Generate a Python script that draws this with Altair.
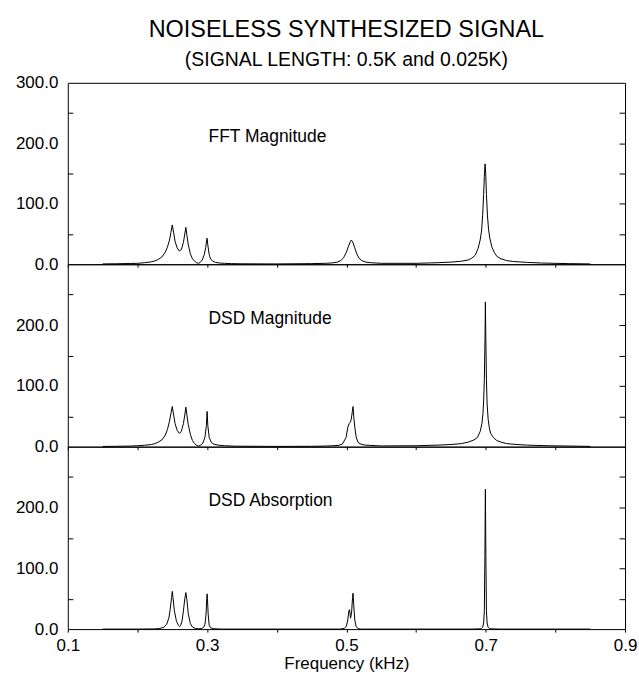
import altair as alt
import pandas as pd

FONT = "Liberation Sans"

# ---------------- data ----------------
fft_freq = [
    0.15, 0.17, 0.19, 0.20, 0.21, 0.22, 0.225, 0.23, 0.235, 0.24,
    0.243, 0.246, 0.248, 0.25, 0.252, 0.254, 0.257, 0.26, 0.263, 0.266,
    0.268, 0.2695, 0.271, 0.273, 0.276, 0.279, 0.282, 0.285, 0.2875, 0.29,
    0.293, 0.296, 0.298, 0.2995, 0.30, 0.301, 0.303, 0.305, 0.308, 0.312,
    0.318, 0.325, 0.335, 0.35, 0.40, 0.45, 0.47, 0.48, 0.487, 0.492,
    0.496, 0.50, 0.503, 0.5055, 0.507, 0.509, 0.512, 0.515, 0.518, 0.522,
    0.528, 0.535, 0.55, 0.60, 0.63, 0.65, 0.665, 0.675, 0.68, 0.685,
    0.689, 0.692, 0.694, 0.6955, 0.697, 0.698, 0.699, 0.700, 0.701, 0.7025,
    0.704, 0.706, 0.709, 0.712, 0.716, 0.722, 0.73, 0.74, 0.76, 0.78,
    0.82, 0.85,
]
fft_mag = [
    0.5, 0.8, 1.2, 1.5, 2.5, 4, 5.5, 8, 12, 20,
    28, 40, 52, 65, 52, 38, 27, 22, 24, 36,
    50, 61, 48, 32, 17, 9, 5, 2.5, 1.5, 3,
    7, 16, 28, 40, 43, 32, 16, 9, 5, 3,
    2, 1.5, 1, 0.7, 0.5, 1, 1.5, 2.2, 3.5, 6,
    11, 20, 30, 37, 40, 37, 27, 17, 10, 6,
    3.5, 2.5, 1.5, 1.5, 2.5, 3.5, 5, 7, 10, 15,
    26, 40, 55, 80, 115, 145, 166, 150, 115, 80,
    58, 42, 28, 20, 13, 9, 6, 4.5, 3, 2,
    1, 0.5,
]

dsd_mag_freq = [
    0.15, 0.17, 0.19, 0.20, 0.21, 0.22, 0.225, 0.23, 0.235, 0.24,
    0.243, 0.246, 0.248, 0.25, 0.252, 0.254, 0.257, 0.26, 0.263, 0.266,
    0.268, 0.2695, 0.271, 0.273, 0.276, 0.279, 0.282, 0.285, 0.288, 0.291,
    0.294, 0.297, 0.299, 0.30, 0.301, 0.303, 0.306, 0.31, 0.316, 0.325,
    0.34, 0.40, 0.45, 0.47, 0.48, 0.488, 0.494, 0.4995, 0.502, 0.504,
    0.5055, 0.507, 0.5085, 0.5095, 0.5105, 0.512, 0.514, 0.5167, 0.521, 0.527,
    0.535, 0.55, 0.60, 0.63, 0.65, 0.665, 0.675, 0.683, 0.688, 0.692,
    0.6945, 0.696, 0.697, 0.698, 0.699, 0.6995, 0.700, 0.701, 0.702, 0.7035,
    0.705, 0.707, 0.711, 0.716, 0.722, 0.73, 0.745, 0.76, 0.79, 0.82,
    0.85,
]
dsd_mag = [
    0.3, 0.6, 1, 1.5, 2.3, 3.5, 5, 7.5, 11, 19,
    28, 42, 54, 66, 52, 38, 27, 22, 25, 38,
    52, 65, 52, 36, 20, 10, 5, 2, 1, 2.5,
    6, 16, 35, 58, 35, 15, 7, 4, 2.5, 1.5,
    0.8, 0.4, 0.6, 1, 1.5, 2, 4, 15, 32, 38,
    40, 45, 58, 66, 50, 32, 16, 7, 4, 2.5,
    2, 1.2, 1.5, 2.5, 3.5, 5, 7.5, 11, 15, 25,
    38, 54, 75, 110, 180, 238, 190, 110, 70, 45,
    32, 22, 15, 10, 7.5, 5, 3.5, 2.5, 1.5, 1,
    0.4,
]

dsd_abs_freq = [
    0.15, 0.20, 0.225, 0.232, 0.238, 0.242, 0.245, 0.247, 0.249, 0.25,
    0.251, 0.253, 0.256, 0.259, 0.2605, 0.262, 0.264, 0.266, 0.268, 0.2695,
    0.271, 0.273, 0.276, 0.279, 0.283, 0.288, 0.292, 0.295, 0.297, 0.2985,
    0.2995, 0.30, 0.3005, 0.3015, 0.303, 0.305, 0.31, 0.32, 0.49, 0.497,
    0.50, 0.502, 0.5035, 0.5045, 0.506, 0.5075, 0.5088, 0.5095, 0.5105, 0.512,
    0.514, 0.517, 0.52, 0.68, 0.6935, 0.6955, 0.697, 0.698, 0.6988, 0.6995,
    0.7002, 0.701, 0.702, 0.7035, 0.7055, 0.72, 0.85,
]
dsd_abs = [
    0, 0, 0.3, 1, 3, 8, 18, 32, 52, 62,
    52, 30, 13, 6, 4, 6, 13, 30, 50, 60,
    48, 25, 9, 3.5, 1, 0.5, 1, 3, 8, 25,
    50, 58, 50, 25, 6, 2, 0.5, 0, 0, 1,
    5, 15, 30, 32, 18, 28, 52, 59, 40, 15,
    4, 1, 0, 0, 0.5, 3, 10, 30, 120, 230,
    120, 30, 10, 3, 0.5, 0, 0,
]

panel_names = ["FFT Magnitude", "DSD Magnitude", "DSD Absorption"]
name_x = 0.302
name_y = 202

x_ticks = [0.1, 0.2, 0.3, 0.4, 0.5, 0.6, 0.7, 0.8, 0.9]
x_labels = ["0.1", "0.3", "0.5", "0.7", "0.9"]
y_ticks = [0, 50, 100, 150, 200, 250, 300]

main_title = "NOISELESS SYNTHESIZED SIGNAL"
sub_title = "(SIGNAL LENGTH: 0.5K and 0.025K)"
x_title = "Frequency (kHz)"

# ---------------- chart ----------------
PLOT_W = 559
heights = [182, 183, 183]
X_DOM = [0.1, 0.9]
Y_DOM = [0, 300]

xscale = alt.Scale(domain=X_DOM, nice=False, zero=False)
yscale = alt.Scale(domain=Y_DOM, nice=False)

label_list = "[" + ",".join("'%s'" % s for s in x_labels) + "]"


def x_axis(last):
    kw = dict(values=x_ticks, tickSize=3, domain=False, grid=False,
              tickColor="black", format=".1f", labelFlush=False)
    if last:
        kw.update(labels=True,
                  labelExpr="indexof(%s, datum.label) >= 0 ? datum.label : ''" % label_list,
                  labelPadding=5, labelFontSize=17, labelFont=FONT, labelColor="black",
                  title=x_title, titleFont=FONT, titleFontSize=17, titleFontWeight="normal",
                  titleColor="black", titlePadding=3)
    else:
        kw.update(labels=False, title=None)
    return alt.Axis(**kw)


def panel(freq, amp, name, first, last, h):
    assert len(freq) == len(amp)
    df = pd.DataFrame({"f": freq, "a": amp})

    if first:
        lexpr = "datum.value % 100 === 0 ? format(datum.value, '.1f') : ''"
    else:
        lexpr = "datum.value % 100 === 0 && datum.value < 300 ? format(datum.value, '.1f') : ''"

    left_axis = alt.Axis(values=y_ticks, orient="left", offset=-5, tickSize=5, domain=False,
                         grid=False, labelExpr=lexpr, labelPadding=10, labelFontSize=17,
                         labelFont=FONT, labelColor="black", tickColor="black",
                         tickOpacity={"condition": {"test": "datum.value % 100 === 0", "value": 0}, "value": 1},
                         title=None)
    right_axis = alt.Axis(values=[50, 100, 150, 200, 250], orient="right", offset=-6, tickSize=6,
                          domain=False, grid=False, labels=False, tickColor="black", title=None)

    line = alt.Chart(df).mark_line(color="black", strokeWidth=1, interpolate="linear").encode(
        x=alt.X("f:Q", scale=xscale, axis=x_axis(last)),
        y=alt.Y("a:Q", scale=yscale, axis=left_axis),
    )
    ghost = alt.Chart(df).mark_line(opacity=0).encode(
        x=alt.X("f:Q", scale=xscale, axis=x_axis(last)),
        y=alt.Y("a:Q", scale=yscale, axis=right_axis),
    )
    # panel caption placed at data position (name_x, name_y) converted to pixels
    px = (name_x - X_DOM[0]) / (X_DOM[1] - X_DOM[0]) * PLOT_W
    py = h * (1 - (name_y - Y_DOM[0]) / (Y_DOM[1] - Y_DOM[0]))
    text = alt.Chart(pd.DataFrame({"t": [name]})).mark_text(
        align="left", baseline="alphabetic", font=FONT, fontSize=17.5, color="black"
    ).encode(x=alt.value(px), y=alt.value(py), text="t:N")
    return (alt.layer(line, ghost, text)
            .resolve_axis(y="independent")
            .properties(width=PLOT_W, height=h))


p1 = panel(fft_freq, fft_mag, panel_names[0], True, False, heights[0])
p2 = panel(dsd_mag_freq, dsd_mag, panel_names[1], False, False, heights[1])
p3 = panel(dsd_abs_freq, dsd_abs, panel_names[2], False, True, heights[2])

chart = alt.vconcat(p1, p2, p3, spacing=0, bounds="flush").properties(
    title=alt.TitleParams(text=main_title, subtitle=sub_title, font=FONT, subtitleFont=FONT,
                          fontSize=23.5, subtitleFontSize=19.5, fontWeight="normal",
                          color="black", subtitleColor="black", anchor="middle", frame="group",
                          offset=4, subtitlePadding=9),
    padding={"left": 14, "top": 17, "right": 1, "bottom": 3},
).configure_view(stroke="black", strokeWidth=1)

chart.save("out.html", embed_options={"renderer": "svg", "actions": False})
